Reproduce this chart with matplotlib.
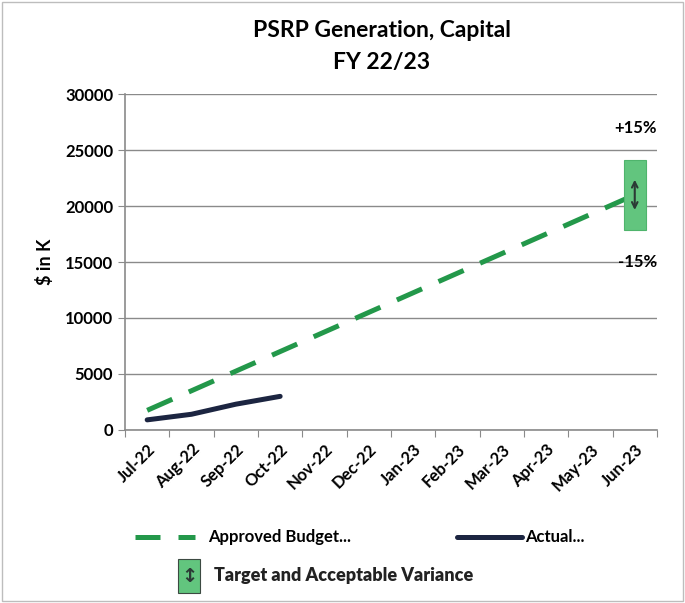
"""PSRP Generation, Capital FY 22/23 - budget vs actual."""
import numpy as np, matplotlib; matplotlib.use("Agg")
import matplotlib.pyplot as plt
from matplotlib.lines import Line2D
from matplotlib.patches import Rectangle

plt.rcParams.update({"font.family": ["Lato", "DejaVu Sans"], "font.weight": "bold",
                     "axes.labelweight": "bold"})

months = ["Jul-22", "Aug-22", "Sep-22", "Oct-22", "Nov-22", "Dec-22",
          "Jan-23", "Feb-23", "Mar-23", "Apr-23", "May-23", "Jun-23"]
budget = [1750, 3500, 5250, 7000, 8750, 10500, 12250, 14000, 15750, 17500, 19250, 21000]
actual = [900, 1400, 2300, 3000]
variance = 0.15

GREEN = "#23984a"; NAVY = "#1c2541"; BOX = "#62c57e"; GRID = "#8a8a8a"

fig = plt.figure(figsize=(6.85, 6.03), dpi=100)
ax = fig.add_axes([0.1825, 0.287, 0.7765, 0.557])
x = np.arange(len(months))

ax.plot(x, budget, color=GREEN, lw=3.6, dashes=(5.5, 3.6), solid_capstyle="butt", zorder=3)
ax.plot(x[:len(actual)], actual, color=NAVY, lw=3.6, solid_capstyle="round", zorder=3)

tgt = budget[-1]
lo, hi = tgt * (1 - variance), tgt * (1 + variance)
ax.bar(x[-1], hi - lo, bottom=lo, width=0.5, color=BOX, edgecolor="#4fb46c", lw=0.8, zorder=4)
ax.annotate("", xy=(x[-1], tgt + 1600), xytext=(x[-1], tgt - 1600),
            arrowprops=dict(arrowstyle="<->", color="#2b3a35", lw=1.5), zorder=5)
ax.text(11.5, 27000, "+15%", ha="right", va="center", fontsize=12)
ax.text(11.5, 15000, "-15%", ha="right", va="center", fontsize=12)

ax.set_xlim(-0.5, 11.5); ax.set_ylim(0, 30000)
ax.set_yticks(range(0, 30001, 5000))
ax.yaxis.grid(True, color=GRID, lw=1.0); ax.set_axisbelow(True)
ax.set_xticks(np.arange(-0.5, 12, 1))
ax.set_xticklabels([])
ax.set_xticks(x, minor=True)
ax.set_xticklabels(months, minor=True, rotation=45, ha="right", rotation_mode="anchor", fontsize=12)
ax.tick_params(axis="x", which="minor", length=0, pad=8)
ax.tick_params(axis="x", which="major", length=5, color=GRID, direction="out")
ax.tick_params(axis="y", length=5, color=GRID, labelsize=12)
for s in ["top", "right"]:
    ax.spines[s].set_visible(False)
for s in ["left", "bottom"]:
    ax.spines[s].set_color(GRID); ax.spines[s].set_linewidth(1.2)
ax.set_ylabel("$ in K", fontsize=13, labelpad=8)

fig.text(0.557, 0.949, "PSRP Generation, Capital", ha="center", va="center", fontsize=16.5)
fig.text(0.557, 0.896, "FY 22/23", ha="center", va="center", fontsize=16.5)

# legend
ly = 1 - 537 / 603
fig.add_artist(Line2D([135/685, 195/685], [ly, ly], color=GREEN, lw=3.6, dashes=(5, 3.6)))
fig.text(208/685, ly, "Approved Budget...", va="center", fontsize=12)
fig.add_artist(Line2D([457/685, 522/685], [ly, ly], color=NAVY, lw=3.6, solid_capstyle="round"))
fig.text(525/685, ly, "Actual...", va="center", fontsize=12)
ry = 1 - 576 / 603
fig.add_artist(Rectangle((178/685, 1 - 593/603), 22/685, 34/603, facecolor=BOX,
                         edgecolor="#3c4a42", lw=0.8, transform=fig.transFigure))
fig.text(189/685, ry, "\u2195", ha="center", va="center", fontsize=14, color="#2b3a35",
         family=["DejaVu Sans"])
fig.text(214/685, ry, "Target and Acceptable Variance", va="center", fontsize=13,
         weight="heavy", color="#222222")

fig.add_artist(Rectangle((0.003, 0.003), 0.994, 0.994, fill=False, edgecolor="#bdbdbd",
                         lw=1.0, transform=fig.transFigure))
fig.savefig("out.png", dpi=100)
print("Saved: out.png")
